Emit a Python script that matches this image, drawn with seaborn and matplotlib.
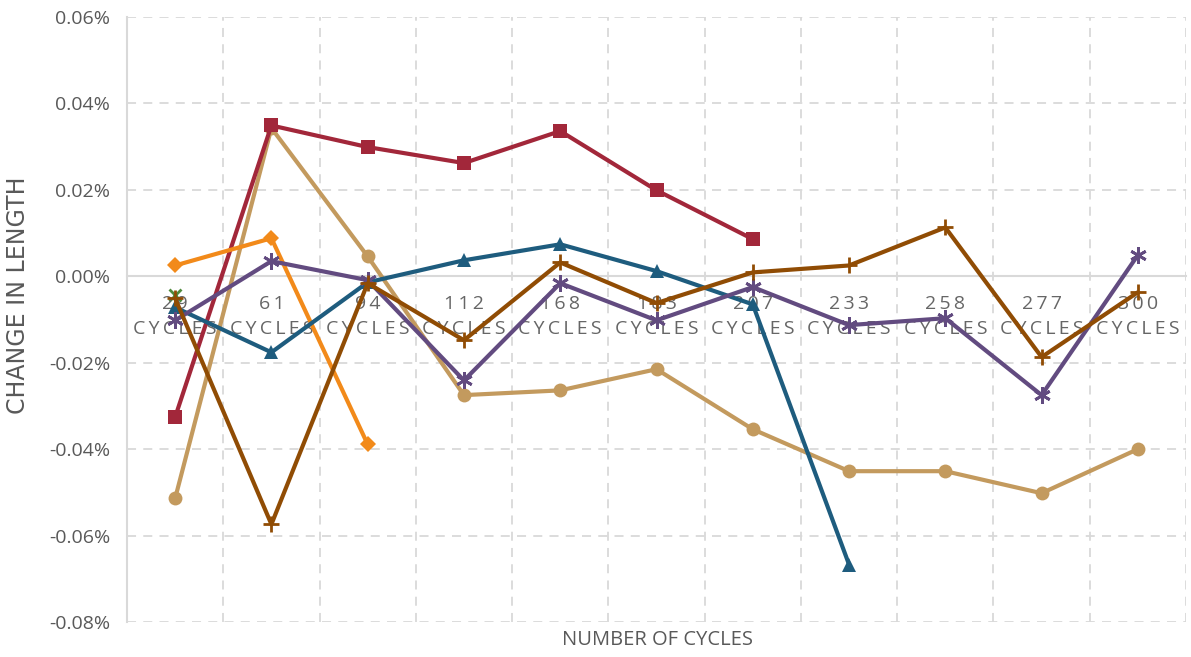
import numpy as np
import pandas as pd
import matplotlib
matplotlib.use("Agg")
import matplotlib.pyplot as plt
import seaborn as sns
from matplotlib.ticker import FuncFormatter

cycles = ["29", "61", "94", "112", "168", "183", "207", "233", "258", "277", "300"]

red_sq = [-0.0326, 0.0349, 0.0299, 0.0262, 0.0336, 0.0199, 0.0086]
tan_circle = [-0.0514, 0.0343, 0.0046, -0.0275, -0.0264, -0.0215, -0.0354, -0.0451, -0.0451, -0.0502, -0.0400]
orange_diamond = [0.0025, 0.0088, -0.0389]
blue_triangle = [-0.0072, -0.0176, -0.0014, 0.0037, 0.0074, 0.0012, -0.0065, -0.0667]
purple_star = [-0.0102, 0.0035, -0.0009, -0.0241, -0.0016, -0.0102, -0.0025, -0.0113, -0.0097, -0.0275, 0.0049]
brown_plus = [-0.0051, -0.0574, -0.0016, -0.0148, 0.0032, -0.0062, 0.0009, 0.0025, 0.0113, -0.0187, -0.0037]
green_x = [-0.0044]

yticks = [-0.08, -0.06, -0.04, -0.02, 0.00, 0.02, 0.04, 0.06]

sns.set_style("white")
plt.rcParams['font.family'] = ['Open Sans', 'DejaVu Sans']

fig = plt.figure(figsize=(11.91, 6.57), dpi=100)
ax = fig.add_axes([127/1191, 1-622/657, (1186-127)/1191, (622-17)/657])

series = [
    (tan_circle, "#C39A5E", "o", 10, 1.0),
    (red_sq, "#A2273A", "s", 10, 1.0),
    (orange_diamond, "#F28A1A", "D", 8, 1.0),
    (blue_triangle, "#1E5C7E", "^", 10, 1.0),
    (purple_star, "#624B80", (6, 2, 0), 12, 2.0),
    (brown_plus, "#904C04", "+", 12, 2.0),
]

grid_col = "#D9D9D9"
for yv in yticks:
    if yv != 0:
        ax.axhline(yv, color=grid_col, lw=1.3, ls=(0, (5, 4)), zorder=0)
for xb in np.arange(0.5, 11.0, 1.0):
    ax.axvline(xb, color=grid_col, lw=1.3, ls=(0, (5, 4)), zorder=0)

for vals, col, mk, ms, mew in series:
    xs = np.arange(len(vals))
    sns.lineplot(x=xs, y=vals, ax=ax, color=col, lw=3, marker=mk, markersize=ms,
                 markeredgewidth=mew if mk in ("+", (6, 2, 0)) else 0,
                 markeredgecolor=col, markerfacecolor=col, zorder=3, legend=False)

sns.lineplot(x=[0], y=green_x, ax=ax, color="#4F8A3C", lw=0, marker="x", markersize=9,
             markeredgewidth=2, markeredgecolor="#4F8A3C", zorder=2, legend=False)

ax.set_xlim(-0.5, 10.5)
ax.set_ylim(-0.08, 0.06)
ax.set_yticks(yticks)
ax.yaxis.set_major_formatter(FuncFormatter(lambda v, p: f"{v:.2f}%"))
ax.tick_params(axis="x", length=0)
ax.tick_params(axis="y", length=0, pad=12, labelsize=14, labelcolor="#595959")
ax.set_xticks(np.arange(len(cycles)))
ax.set_xticklabels([])

# category labels (two lines) placed just below the zero line, Excel style
thin = "\u2009"
for i, c in enumerate(cycles):
    ax.text(i, -0.0065, thin.join(c), ha="center", va="center", fontsize=14,
            color="#666666", zorder=2)
    ax.text(i, -0.0123, thin.join("CYCLES"), ha="center", va="center", fontsize=14,
            color="#666666", zorder=2)

for s in ["top", "right"]:
    ax.spines[s].set_visible(False)
ax.spines["bottom"].set_position(("data", 0))
ax.spines["bottom"].set_color(grid_col)
ax.spines["bottom"].set_linewidth(1.5)
ax.spines["bottom"].set_zorder(1)
ax.spines["left"].set_color(grid_col)
ax.spines["left"].set_linewidth(1.5)

ax.set_xlabel("")
ax.set_ylabel("")
fig.text(18/1191, 1-295/657, "CHANGE IN LENGTH", rotation=90, ha="center", va="center",
         fontsize=17, color="#595959", family=["Liberation Sans Narrow", "DejaVu Sans"])
fig.text(658/1191, 1-640/657, "NUMBER OF CYCLES", ha="center", va="center",
         fontsize=14.5, color="#595959")

fig.savefig("out.png", dpi=100)
